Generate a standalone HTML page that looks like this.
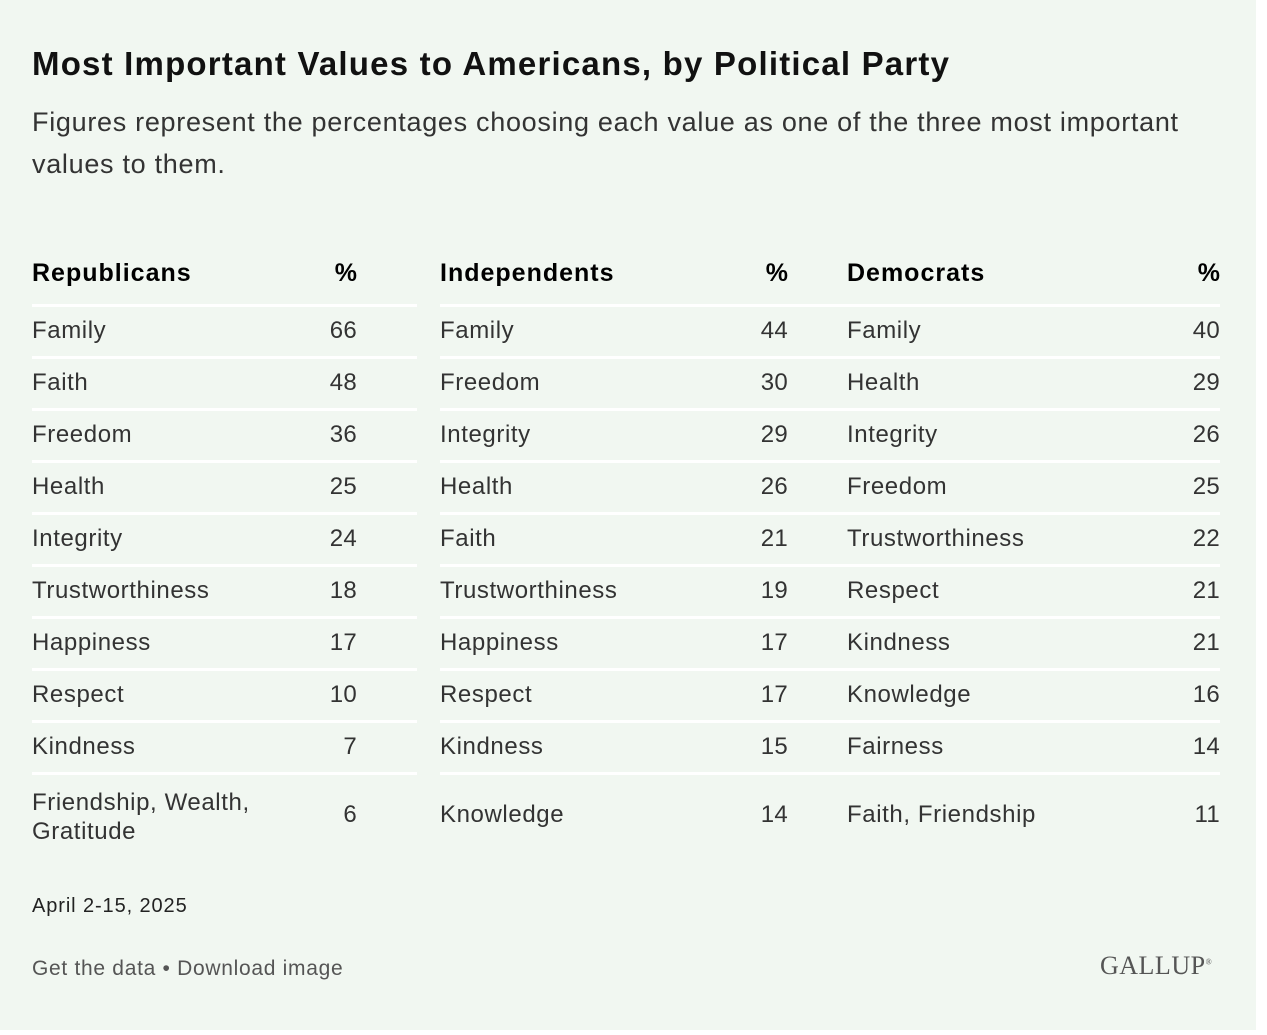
<!DOCTYPE html>
<html><head><meta charset="utf-8"><style>
body{margin:0;width:1267px;height:1035px;background:#fff;font-family:"Liberation Sans",sans-serif;position:relative;overflow:hidden}
#card{position:absolute;left:0;top:0;width:1256px;height:1030px;background:#f1f7f1}
.a{position:absolute;white-space:nowrap;line-height:1}
.h{font-weight:bold;font-size:25px;color:#000;letter-spacing:1px}
.c{font-size:24px;color:#333;letter-spacing:0.6px}
.ln{position:absolute;height:3px;background:#fff}
</style></head><body>
<div id="card">
<div class="a" style="left:32px;top:47px;font-size:33px;font-weight:bold;color:#111;letter-spacing:1.2px">Most Important Values to Americans, by Political Party</div>
<div class="a" style="left:32px;top:101px;font-size:27px;color:#333;line-height:42px;white-space:normal;width:1200px;letter-spacing:0.7px">Figures represent the percentages choosing each value as one of the three most important values to them.</div>
<div id="tbl"></div>
<div class="a" style="left:32px;top:896px;font-size:20px;color:#222;letter-spacing:0.9px">April 2-15, 2025</div>
<div class="a" style="left:32px;top:958px;font-size:21px;color:#555;letter-spacing:0.7px"><span>Get the data</span> • <span>Download image</span></div>
<div class="a" style="left:1100px;top:953px;font-family:'Liberation Serif',serif;font-size:26px;color:#555;letter-spacing:0.5px">GALLUP<sup style="font-size:8px">®</sup></div>
</div>
<script>
const groups=["Republicans","Independents","Democrats"];
const repLabels=["Family","Faith","Freedom","Health","Integrity","Trustworthiness","Happiness","Respect","Kindness","Friendship, Wealth,<br>Gratitude"];
const repValues=[66,48,36,25,24,18,17,10,7,6];
const indLabels=["Family","Freedom","Integrity","Health","Faith","Trustworthiness","Happiness","Respect","Kindness","Knowledge"];
const indValues=[44,30,29,26,21,19,17,17,15,14];
const demLabels=["Family","Health","Integrity","Freedom","Trustworthiness","Respect","Kindness","Knowledge","Fairness","Faith, Friendship"];
const demValues=[40,29,26,25,22,21,21,16,14,11];
const labelsAll=[repLabels,indLabels,demLabels],valuesAll=[repValues,indValues,demValues];
const colL=[32,440,847],colR=[357,788,1220];
const t=document.getElementById('tbl');
function add(html,cls,style,name){const d=document.createElement('div');d.className=cls;d.innerHTML=html;d.style.cssText=style;


t.appendChild(d);return d;}
for(let g=0;g<3;g++){
 add(groups[g],'a h',`left:${colL[g]}px;top:261px`,'column-header');
 add('%','a h',`left:${colR[g]-40}px;width:40px;text-align:right;top:261px;letter-spacing:0`,'percent-header');
 for(let i=0;i<labelsAll[g].length;i++){
  const lineY=304+52*i;
  add('','ln',`left:${colL[g]}px;width:${colR[g]-colL[g]+(g<2?60:0)}px;top:${lineY}px`,'row-divider');
  const last=i===labelsAll[g].length-1;
  const cy=last?816:332+52*i;
  const two=last&&labelsAll[g][i].includes('<br>');
  add(labelsAll[g][i],'a c',`left:${colL[g]}px;top:${two?cy-28:cy-13}px;line-height:${two?'29px':'1'}`,'row-label');
  add(String(valuesAll[g][i]),'a c',`left:${colR[g]-60}px;width:60px;text-align:right;top:${cy-13}px;letter-spacing:0.3px`,'row-value');
 }
}
</script>
</body></html>
